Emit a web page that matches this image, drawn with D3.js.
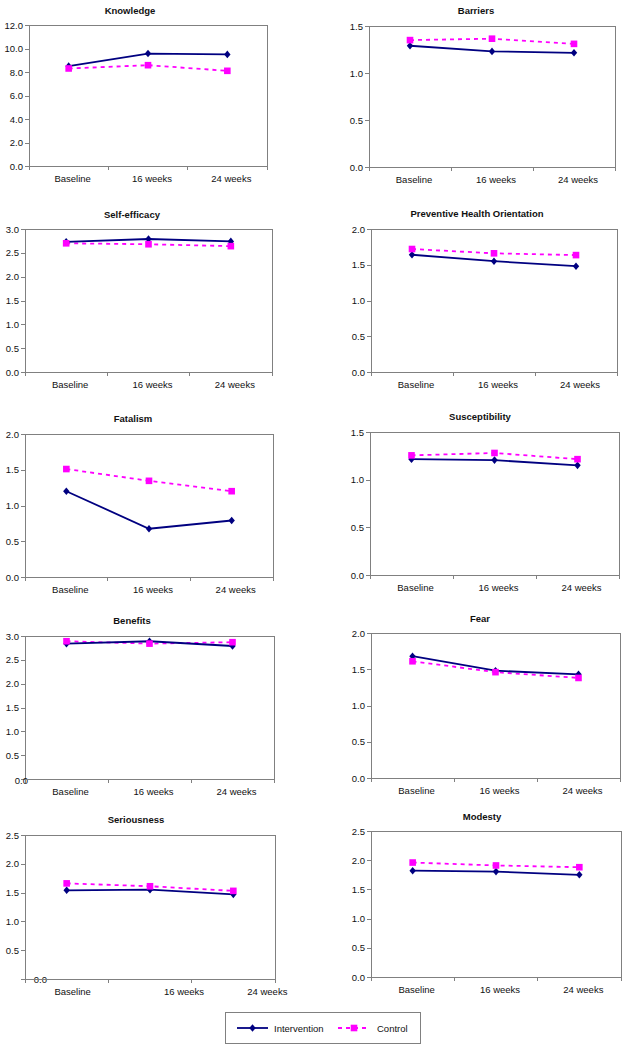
<!DOCTYPE html>
<html>
<head>
<meta charset="utf-8">
<script src="https://cdn.jsdelivr.net/npm/d3@7"></script>
<style>
  html, body { margin: 0; padding: 0; background: #fff; }
  svg { display: block; font-family: "Liberation Sans", Arial, sans-serif; }
</style>
</head>
<body>
<svg id="chart" width="629" height="1050"></svg>
<script>
// ---------------- data ----------------
const categories = ["Baseline", "16 weeks", "24 weeks"];
const seriesNames = ["Intervention", "Control"];
const titles = ["Knowledge", "Barriers", "Self-efficacy", "Preventive Health Orientation",
  "Fatalism", "Susceptibility", "Benefits", "Fear", "Seriousness", "Modesty"];
const yMax  = [12, 1.5, 3, 2, 2, 1.5, 3, 2, 2.5, 2.5];
const yStep = [2, 0.5, 0.5, 0.5, 0.5, 0.5, 0.5, 0.5, 0.5, 0.5];
const intervention = [
  [8.5, 9.57, 9.5],
  [1.29, 1.23, 1.215],
  [2.73, 2.79, 2.74],
  [1.64, 1.55, 1.48],
  [1.20, 0.675, 0.79],
  [1.215, 1.205, 1.15],
  [2.84, 2.89, 2.79],
  [1.68, 1.48, 1.43],
  [1.54, 1.55, 1.47],
  [1.82, 1.805, 1.75]
];
const control = [
  [8.3, 8.58, 8.1],
  [1.35, 1.365, 1.31],
  [2.70, 2.68, 2.64],
  [1.72, 1.66, 1.635],
  [1.51, 1.345, 1.20],
  [1.255, 1.28, 1.215],
  [2.89, 2.84, 2.87],
  [1.61, 1.46, 1.38],
  [1.66, 1.61, 1.53],
  [1.96, 1.91, 1.88]
];

// ---------------- layout (positions only) ----------------
const layout = [
  {L: 29,  R: 267, T: 25,  B: 166, tx: 130, ty: 10,  lx: [4, 4, 4]},
  {L: 369, R: 615, T: 26,  B: 167, tx: 476, ty: 10,  lx: [4, 4, 4]},
  {L: 25,  R: 272, T: 229, B: 372, tx: 132, ty: 214, lx: [4, 4, 4]},
  {L: 371, R: 617, T: 229, B: 372, tx: 477, ty: 213, lx: [4, 4, 4]},
  {L: 25,  R: 273, T: 434, B: 577, tx: 133, ty: 418, lx: [4, 4, 4]},
  {L: 370, R: 619, T: 432, B: 575, tx: 480, ty: 416, lx: [4, 4, 4]},
  {L: 25,  R: 274, T: 636, B: 779, tx: 132, ty: 620, lx: [4, 4, 4], zeroShift: [9, 1]},
  {L: 371, R: 620, T: 633, B: 778, tx: 480, ty: 618, lx: [4, 4, 4]},
  {L: 25,  R: 275, T: 835, B: 979, tx: 136, ty: 819, lx: [6, 34, 34], zeroShift: [28, 0]},
  {L: 371, R: 621, T: 831, B: 977, tx: 482, ty: 816, lx: [4, 4, 4]}
];

const colors = {Intervention: "#000080", Control: "#FF00FF"};
const axisColor = "#808080";
const textColor = "#111";
const fontSize = 9.5;

const svg = d3.select("#chart");

function diamond(g, cx, cy, color) {
  g.append("path")
    .attr("d", `M${cx},${cy - 3.8}L${cx + 3.2},${cy}L${cx},${cy + 3.8}L${cx - 3.2},${cy}Z`)
    .attr("fill", color);
}
function square(g, cx, cy, color) {
  g.append("rect").attr("x", cx - 3.3).attr("y", cy - 3.3)
    .attr("width", 6.6).attr("height", 6.6).attr("fill", color);
}

titles.forEach((title, i) => {
  const lay = layout[i];
  const g = svg.append("g");

  const x = d3.scaleBand().domain(categories).range([lay.L, lay.R]).padding(0);
  const y = d3.scaleLinear().domain([0, yMax[i]]).range([lay.B, lay.T]);
  const xc = c => x(c) + x.bandwidth() / 2;

  // plot area border
  g.append("rect").attr("x", lay.L).attr("y", lay.T)
    .attr("width", lay.R - lay.L).attr("height", lay.B - lay.T)
    .attr("fill", "#fff").attr("stroke", axisColor).attr("stroke-width", 1)
    .attr("shape-rendering", "crispEdges");

  // y axis
  const ticks = d3.range(0, yMax[i] + yStep[i] / 2, yStep[i]);
  const yAxis = d3.axisLeft(y).tickValues(ticks).tickFormat(d3.format(".1f"))
    .tickSize(4).tickPadding(2);
  const ya = g.append("g").attr("transform", `translate(${lay.L},0)`).call(yAxis);
  ya.select(".domain").attr("stroke", axisColor).attr("shape-rendering", "crispEdges");
  ya.selectAll(".tick line").attr("stroke", axisColor).attr("shape-rendering", "crispEdges");
  ya.selectAll(".tick text").attr("fill", textColor).attr("font-size", fontSize)
    .attr("font-family", "'Liberation Sans', Arial, sans-serif");
  if (lay.zeroShift) {
    ya.selectAll(".tick").filter(d => d === 0).select("text")
      .attr("transform", `translate(${lay.zeroShift[0]},${lay.zeroShift[1]})`);
  }

  // x axis (ticks at category boundaries)
  const xa = g.append("g").attr("transform", `translate(0,${lay.B})`);
  xa.append("line").attr("x1", lay.L).attr("x2", lay.R)
    .attr("stroke", axisColor).attr("shape-rendering", "crispEdges");
  const bounds = categories.map(c => x(c)).concat([lay.R]);
  xa.selectAll("line.tk").data(bounds).join("line").attr("class", "tk")
    .attr("x1", d => d).attr("x2", d => d).attr("y1", 0).attr("y2", 4)
    .attr("stroke", axisColor).attr("shape-rendering", "crispEdges");
  xa.selectAll("text").data(categories).join("text")
    .attr("x", (d, k) => xc(d) + lay.lx[k]).attr("y", 15.5)
    .attr("text-anchor", "middle").attr("font-size", fontSize).attr("fill", textColor)
    .text(d => d);

  // title
  g.append("text").attr("x", lay.tx).attr("y", lay.ty + 3.5)
    .attr("text-anchor", "middle").attr("font-size", fontSize).attr("font-weight", "bold")
    .attr("fill", textColor).text(title);

  // series
  const line = d3.line().x((d, k) => xc(categories[k])).y(d => y(d));
  g.append("path").datum(control[i]).attr("d", line).attr("fill", "none")
    .attr("stroke", colors.Control).attr("stroke-width", 1.8).attr("stroke-dasharray", "4,4");
  g.append("path").datum(intervention[i]).attr("d", line).attr("fill", "none")
    .attr("stroke", colors.Intervention).attr("stroke-width", 1.8);
  intervention[i].forEach((v, k) => diamond(g, xc(categories[k]), y(v), colors.Intervention));
  control[i].forEach((v, k) => square(g, xc(categories[k]), y(v), colors.Control));
});

// legend
const lg = svg.append("g");
lg.append("rect").attr("x", 225.5).attr("y", 1012.5).attr("width", 195).attr("height", 31)
  .attr("fill", "#fff").attr("stroke", axisColor);
const legendItems = [
  {name: seriesNames[0], x0: 237, x1: 268, tx: 274},
  {name: seriesNames[1], x0: 338, x1: 370, tx: 377}
];
legendItems.forEach(it => {
  const ly = 1028;
  lg.append("line").attr("x1", it.x0).attr("x2", it.x1).attr("y1", ly).attr("y2", ly)
    .attr("stroke", colors[it.name]).attr("stroke-width", 1.8)
    .attr("stroke-dasharray", it.name === "Control" ? "4,4" : null);
  const mx = (it.x0 + it.x1) / 2;
  if (it.name === "Control") square(lg, mx, ly, colors.Control);
  else diamond(lg, mx, ly, colors.Intervention);
  lg.append("text").attr("x", it.tx).attr("y", ly + 3.5).attr("font-size", fontSize)
    .attr("fill", textColor).text(it.name);
});
</script>
</body>
</html>
